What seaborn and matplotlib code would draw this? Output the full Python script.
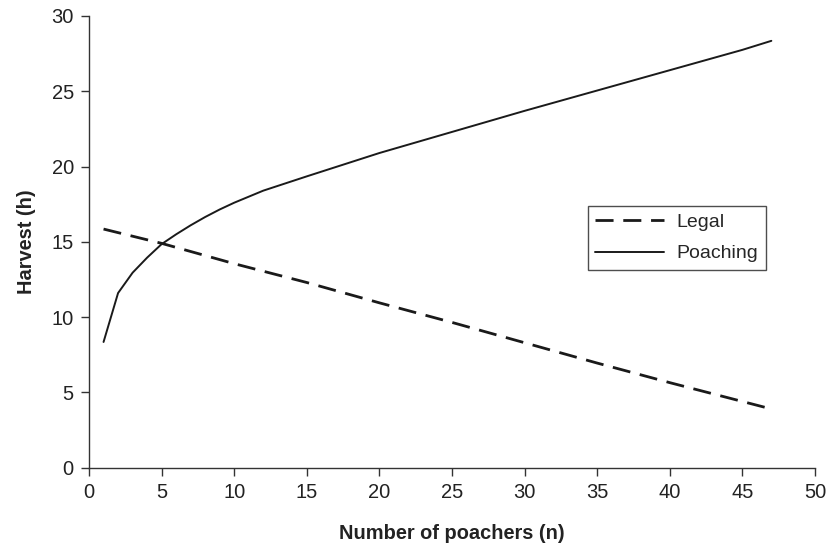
import pandas as pd
import seaborn as sns
import matplotlib.pyplot as plt

# values
legal_n = [1, 5, 10, 15, 20, 25, 30, 35, 40, 45, 47]
legal_h = [15.85, 14.9, 13.55, 12.3, 10.95, 9.65, 8.3, 6.95, 5.65, 4.4, 3.9]

poach_n = [1, 2, 3, 4, 5, 6, 7, 8, 9, 10, 12, 15, 20, 25, 30, 35, 40, 45, 47]
poach_h = [8.35, 11.6, 12.95, 13.95, 14.85, 15.5, 16.1, 16.65, 17.15, 17.6,
           18.4, 19.35, 20.9, 22.3, 23.7, 25.05, 26.4, 27.75, 28.35]

x_ticks = list(range(0, 51, 5))
y_ticks = list(range(0, 31, 5))

legal_df = pd.DataFrame({'n': legal_n, 'h': legal_h})
poach_df = pd.DataFrame({'n': poach_n, 'h': poach_h})

sns.set_style('ticks')
plt.rcParams['font.family'] = ['Liberation Sans', 'DejaVu Sans']

fig = plt.figure(figsize=(8.29, 5.46), dpi=100)
ax = fig.add_axes([0.1074, 0.1434, 0.8756, 0.8273])

sns.lineplot(data=legal_df, x='n', y='h', ax=ax, color='#1a1a1a', lw=2.0,
             label='Legal')
ax.lines[-1].set_dashes((6.5, 3.5))
sns.lineplot(data=poach_df, x='n', y='h', ax=ax, color='#1a1a1a', lw=1.4,
             label='Poaching')

ax.set_xlim(0, 50)
ax.set_ylim(0, 30)
ax.set_xticks(x_ticks)
ax.set_yticks(y_ticks)
ax.tick_params(direction='out', length=6, width=1, colors='#333333',
               labelsize=14.5, labelcolor='#222222', pad=5)
for side in ['left', 'bottom']:
    ax.spines[side].set_color('#333333')
    ax.spines[side].set_linewidth(1)
sns.despine(ax=ax)

ax.set_xlabel('Number of poachers (n)', fontsize=14.4, fontweight='bold',
              labelpad=16, color='#222222')
ax.set_ylabel('Harvest (h)', fontsize=14.4, fontweight='bold',
              labelpad=11, color='#222222')

leg = ax.legend(loc='upper left', bbox_to_anchor=(0.687, 0.58), fontsize=14,
                frameon=True, fancybox=False, handlelength=3.5,
                borderpad=0.4, labelspacing=0.7, handletextpad=0.65,
                borderaxespad=0)
leg.get_frame().set_edgecolor('#222222')
leg.get_frame().set_linewidth(1)

fig.savefig('out.png', dpi=100)
